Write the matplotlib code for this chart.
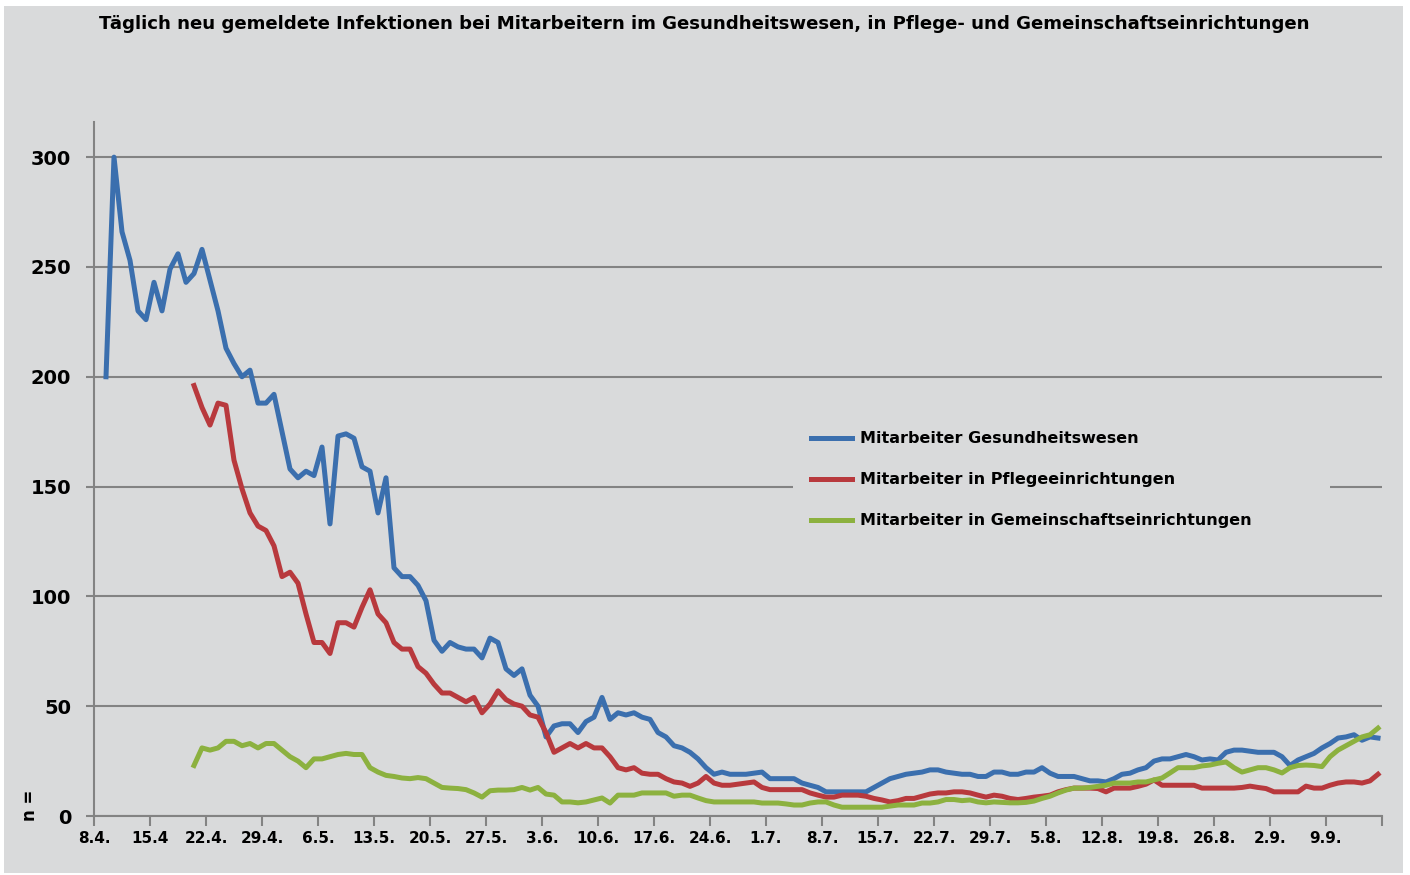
import numpy as np
import matplotlib
matplotlib.use('Agg')
import matplotlib.pyplot as plt
from matplotlib.patches import Rectangle

plt.rcParams['font.family'] = ['DejaVu Sans']
plt.rcParams['font.weight'] = 'bold'

# daily values; day 0 = 8.4.
gesundheit = [
    200, 300, 266, 253, 230, 226, 243, 230, 249, 256,
    243, 247, 258, 244, 230, 213, 206, 200, 203, 188,
    188, 192, 175, 158, 154, 157, 155, 168, 133, 173,
    174, 172, 159, 157, 138, 154, 113, 109, 109, 105,
    98, 80, 75, 79, 77, 76, 76, 72, 81, 79,
    67, 64, 67, 55, 50, 36, 41, 42, 42, 38,
    43, 45, 54, 44, 47, 46, 47, 45, 44, 38,
    36, 32, 31, 29, 26, 22, 19, 20, 19, 19,
    19, 19.5, 20, 17, 17, 17, 17, 15, 14, 13,
    11, 11, 11, 11, 11, 11, 13, 15, 17, 18,
    19, 19.5, 20, 21, 21, 20, 19.5, 19, 19, 18,
    18, 20, 20, 19, 19, 20, 20, 22, 19.5, 18,
    18, 18, 17, 16, 16, 15.5, 17, 19, 19.5, 21,
    22, 25, 26, 26, 27, 28, 27, 25.5, 26, 25.5,
    29, 30, 30, 29.5, 29, 29, 29, 27, 23, 25.5,
    27, 28.5, 31, 33, 35.5, 36, 37, 34.5, 36, 35.5,
]
gesundheit_start = 1

pflege = [
    196, 186, 178, 188, 187, 162, 149, 138, 132, 130,
    123, 109, 111, 106, 92, 79, 79, 74, 88, 88,
    86, 95, 103, 92, 88, 79, 76, 76, 68, 65,
    60, 56, 56, 54, 52, 54, 47, 51, 57, 53,
    51, 50, 46, 45, 38, 29, 31, 33, 31, 33,
    31, 31, 27, 22, 21, 22, 19.5, 19, 19, 17,
    15.5, 15, 13.5, 15, 18, 15, 14, 14, 14.5, 15,
    15.5, 13, 12, 12, 12, 12, 12, 10.5, 9.5, 8.6,
    8.6, 9.5, 9.5, 9.5, 9, 8, 7.3, 6.4, 7, 8,
    8, 9, 10, 10.5, 10.5, 11, 11, 10.5, 9.5, 8.6,
    9.5, 9, 8, 7.5, 8, 8.6, 9, 9.5, 11, 12,
    12.7, 12.7, 12.7, 12.5, 11, 12.7, 12.7, 12.7, 13.5, 14.5,
    16.4, 14, 14, 14, 14, 14, 12.7, 12.7, 12.7, 12.7,
    12.7, 13, 13.6, 13, 12.5, 11, 11, 11, 11, 13.6,
    12.7, 12.7, 14, 15, 15.5, 15.5, 15, 16, 19,
]
pflege_start = 12

gemeinschaft = [
    23, 31, 30, 31, 34, 34, 32, 33, 31, 33,
    33, 30, 27, 25, 22, 26, 26, 27, 28, 28.5,
    28, 28, 22, 20, 18.5, 18, 17.3, 17, 17.5, 17,
    15, 13, 12.7, 12.5, 12, 10.5, 8.6, 11.5, 11.8, 11.8,
    12, 13, 11.8, 13, 10, 9.5, 6.4, 6.4, 6, 6.4,
    7.3, 8.2, 5.9, 9.5, 9.5, 9.5, 10.5, 10.5, 10.5, 10.5,
    9, 9.5, 9.5, 8.2, 7, 6.4, 6.4, 6.4, 6.4, 6.4,
    6.4, 5.9, 5.9, 5.9, 5.5, 5, 5, 5.9, 6.4, 6.4,
    5, 4, 4, 4, 4, 4, 4, 4.5, 5, 5,
    5, 5.9, 5.9, 6.4, 7.5, 7.5, 7, 7.3, 6.4, 6,
    6.4, 6.2, 6, 6, 6.2, 6.8, 8, 9, 10.5, 11.8,
    12.7, 12.7, 13, 13.5, 14, 15, 15, 15, 15.5, 15.5,
    16.4, 17.3, 19.6, 22, 22, 22, 22.8, 23.2, 24, 24.6,
    22, 20, 21, 22, 22, 21, 19.6, 22, 23, 23.2,
    23, 22.5, 27, 30, 32, 34, 36, 37, 40,
]
gemeinschaft_start = 12

tick_labels = ['8.4.', '15.4', '22.4.', '29.4.', '6.5.', '13.5.', '20.5.', '27.5.',
               '3.6.', '10.6.', '17.6.', '24.6.', '1.7.', '8.7.', '15.7.', '22.7.',
               '29.7.', '5.8.', '12.8.', '19.8.', '26.8.', '2.9.', '9.9.', '']

labels = ['Mitarbeiter Gesundheitswesen',
          'Mitarbeiter in Pflegeeinrichtungen',
          'Mitarbeiter in Gemeinschaftseinrichtungen']

bg = '#d9dadb'
grid_c = '#838383'
colors = ['#3b6fae', '#b8393d', '#8cb13f']

W, H = 1410, 875
fig = plt.figure(figsize=(W / 100, H / 100), dpi=100, facecolor='white')
fig.patches.append(Rectangle((4 / W, 2 / H), 1399 / W, 867 / H,
                             transform=fig.transFigure, facecolor=bg,
                             edgecolor='none', zorder=-10))

ax = fig.add_axes([94 / W, 59 / H, 1288 / W, 694 / H])
ax.patch.set_alpha(0)

series = [(gesundheit, gesundheit_start), (pflege, pflege_start),
          (gemeinschaft, gemeinschaft_start)]
for (vals, start), col, lab in zip(series, colors, labels):
    x = np.arange(start, start + len(vals))
    ax.plot(x, vals, color=col, lw=3.6, label=lab, solid_joinstyle='round')

ax.set_xlim(-0.5, 160.5)
ax.set_ylim(0, 316)
ax.set_yticks(range(0, 301, 50))
ax.set_xticks(np.arange(len(tick_labels)) * 7 - 0.5)
ax.set_xticklabels(tick_labels)

for s in ['top', 'right']:
    ax.spines[s].set_visible(False)
for s in ['left', 'bottom']:
    ax.spines[s].set_color(grid_c)
    ax.spines[s].set_linewidth(1.5)

ax.yaxis.grid(True, color=grid_c, lw=1.5)
ax.set_axisbelow(True)
ax.tick_params(axis='y', length=6, width=1.5, color=grid_c, pad=10.5,
               labelsize=14)
ax.tick_params(axis='x', length=7, width=1.5, color=grid_c, pad=3.5,
               labelsize=11)

leg = ax.legend(loc='upper left', bbox_to_anchor=(0.5427, 0.381, 0.417, 0.2),
                mode='expand', fontsize=11.5, frameon=True, facecolor=bg,
                edgecolor='none', framealpha=1, fancybox=False,
                handlelength=2.56, handletextpad=0.5, labelspacing=1.63,
                borderpad=1.15, borderaxespad=0)
for h in leg.get_lines():
    h.set_linewidth(3.6)

fig.text(704 / W, 1 - 24 / H,
         'Täglich neu gemeldete Infektionen bei Mitarbeitern im Gesundheitswesen, '
         'in Pflege- und Gemeinschaftseinrichtungen',
         ha='center', va='center', fontsize=13.1, weight='bold')
fig.text(30 / W, 1 - 805 / H, 'n =', rotation=90, ha='center', va='center',
         fontsize=12, weight='bold')

fig.savefig('out.png', dpi=100, facecolor='white')
